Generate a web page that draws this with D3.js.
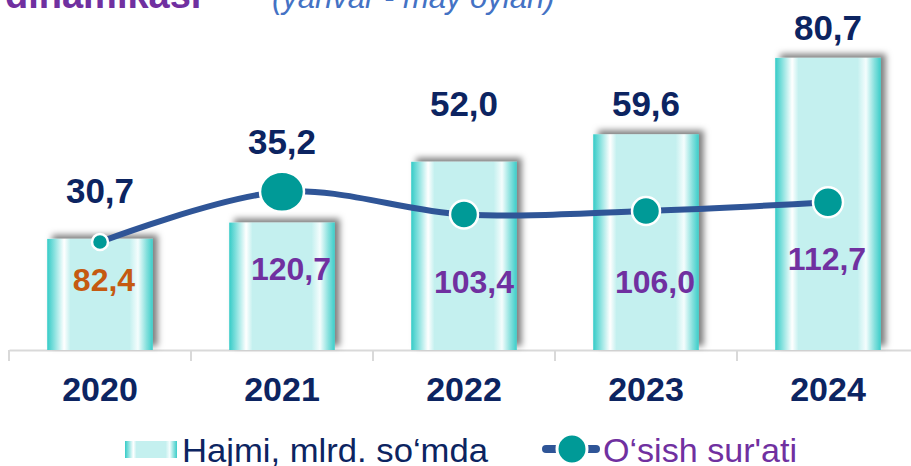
<!DOCTYPE html>
<html>
<head>
<meta charset="utf-8">
<script src="https://cdn.jsdelivr.net/npm/d3@7"></script>
<style>
  body { margin: 0; background: #fff; }
  svg { display: block; font-family: "Liberation Sans", Arial, sans-serif; }
</style>
</head>
<body>
<div id="chart"></div>
<script>
// data
var years = ["2020", "2021", "2022", "2023", "2024"];
var volume = [30.7, 35.2, 52.0, 59.6, 80.7];        // Hajmi, mlrd. so'mda (bars)
var growth = [82.4, 120.7, 103.4, 106.0, 112.7];    // O'sish sur'ati (line)
var volumeLabels = ["30,7", "35,2", "52,0", "59,6", "80,7"];
var growthLabels = ["82,4", "120,7", "103,4", "106,0", "112,7"];

// layout tweaks for labels and markers (hand placed in the original)
var volLabelY = [203, 154, 116, 116, 40];
var growLabelY = [291, 280, 293, 293, 270];
var growLabelDx = [4, 9, 10, 9, -1];
var dotR = [8, 20, 14, 14, 15];

var width = 911, height = 466;
var baseY = 350;

var svg = d3.select("#chart")
  .append("svg")
    .attr("width", width)
    .attr("height", height);

var defs = svg.append("defs");

// cylinder-like horizontal gradient of the bars
var grad = defs.append("linearGradient")
    .attr("id", "barGrad")
    .attr("x1", 0).attr("x2", 1).attr("y1", 0).attr("y2", 0);
[[0, "#35CBC7"], [0.06, "#7EDFDC"], [0.16, "#FFFFFF"], [0.22, "#C4F0EF"],
 [0.78, "#C4F0EF"], [0.86, "#F4FDFD"], [0.94, "#86E0DD"], [1, "#3CCDC9"]]
  .forEach(function(s) {
    grad.append("stop").attr("offset", s[0]).attr("stop-color", s[1]);
  });

var shadow = defs.append("filter")
    .attr("id", "shadow")
    .attr("x", "-20%").attr("y", "-20%")
    .attr("width", "150%").attr("height", "140%");
shadow.append("feDropShadow")
    .attr("dx", 5).attr("dy", -4)
    .attr("stdDeviation", 3)
    .attr("flood-color", "#000")
    .attr("flood-opacity", 0.5);

// title (mostly cut off at the top)
var title = svg.append("text")
    .attr("x", 5)
    .attr("y", 8)
    .style("font-size", "38px");
title.append("tspan")
    .style("font-weight", "bold")
    .style("fill", "#7030A0")
    .text("dinamikasi");
title.append("tspan")
    .attr("x", 272)
    .attr("y", 8)
    .style("font-style", "italic")
    .style("font-size", "31px")
    .style("fill", "#4472C4")
    .text("(yanvar - may oylari)");

// scales
var x = d3.scaleBand()
    .domain(years)
    .range([9, 919])
    .paddingInner(0.42)
    .paddingOuter(0.21);

var y = d3.scaleLinear()
    .domain([0, 96.7])
    .range([baseY, 0]);

var y2 = d3.scaleLinear()
    .domain([0, 267])
    .range([baseY, 0]);

// x axis: gray baseline, ticks at band edges, year labels
var xAxis = svg.append("g")
    .attr("transform", "translate(0," + baseY + ")")
    .call(d3.axisBottom(x).tickSize(0).tickPadding(27));
xAxis.select(".domain")
    .attr("stroke", "#D9D9D9")
    .attr("stroke-width", 2);
xAxis.selectAll("text")
    .style("font-size", "34px")
    .style("font-weight", "bold")
    .style("fill", "#0C2461")
    .style("font-family", "\"Liberation Sans\", Arial, sans-serif");

var edges = years.map(function(d) { return x(d) - x.step() * x.paddingInner() / 2; });
svg.append("g")
  .selectAll("line")
  .data(edges)
  .enter()
  .append("line")
    .attr("x1", function(d) { return d; })
    .attr("x2", function(d) { return d; })
    .attr("y1", baseY)
    .attr("y2", baseY + 11)
    .attr("stroke", "#D9D9D9")
    .attr("stroke-width", 2);

// bars
svg.append("g")
  .selectAll("rect")
  .data(volume)
  .enter()
  .append("rect")
    .attr("x", function(d, i) { return x(years[i]); })
    .attr("y", function(d) { return y(d); })
    .attr("width", x.bandwidth())
    .attr("height", function(d) { return baseY - y(d); })
    .attr("fill", "url(#barGrad)")
    .attr("filter", "url(#shadow)");

// growth line
var pts = growth.map(function(d, i) {
  return [x(years[i]) + x.bandwidth() / 2, y2(d)];
});

svg.append("path")
    .datum(pts)
    .attr("fill", "none")
    .attr("stroke", "#2F5597")
    .attr("stroke-width", 6)
    .attr("d", d3.line().curve(d3.curveCatmullRom.alpha(0.5)));

svg.append("g")
  .selectAll("ellipse")
  .data(pts)
  .enter()
  .append("ellipse")
    .attr("cx", function(d) { return d[0]; })
    .attr("cy", function(d) { return d[1]; })
    .attr("rx", function(d, i) { return dotR[i] + (i == 1 ? 2 : 0); })
    .attr("ry", function(d, i) { return dotR[i]; })
    .attr("fill", "#009A97")
    .attr("stroke", "#fff")
    .attr("stroke-width", 2.5);

// value labels above bars
svg.append("g")
  .selectAll("text")
  .data(volumeLabels)
  .enter()
  .append("text")
    .attr("x", function(d, i) { return x(years[i]) + x.bandwidth() / 2; })
    .attr("y", function(d, i) { return volLabelY[i]; })
    .attr("text-anchor", "middle")
    .style("font-size", "35px")
    .style("font-weight", "bold")
    .style("fill", "#0C2461")
    .text(function(d) { return d; });

// growth labels inside bars
svg.append("g")
  .selectAll("text")
  .data(growthLabels)
  .enter()
  .append("text")
    .attr("x", function(d, i) { return x(years[i]) + x.bandwidth() / 2 + growLabelDx[i]; })
    .attr("y", function(d, i) { return growLabelY[i]; })
    .attr("text-anchor", "middle")
    .style("font-size", "32px")
    .style("font-weight", "bold")
    .style("fill", function(d, i) { return i == 0 ? "#C55A11" : "#7030A0"; })
    .text(function(d) { return d; });

// legend
var legend = svg.append("g");
legend.append("rect")
    .attr("x", 125).attr("y", 441)
    .attr("width", 52).attr("height", 17)
    .attr("fill", "url(#barGrad)");
legend.append("text")
    .attr("x", 182).attr("y", 462)
    .attr("textLength", 306)
    .attr("lengthAdjust", "spacingAndGlyphs")
    .style("font-size", "33px")
    .style("fill", "#0C2461")
    .text("Hajmi, mlrd. so‘mda");

legend.append("line")
    .attr("x1", 546).attr("x2", 596)
    .attr("y1", 449).attr("y2", 449)
    .attr("stroke", "#2F5597")
    .attr("stroke-width", 8)
    .attr("stroke-linecap", "round");
legend.append("ellipse")
    .attr("cx", 572).attr("cy", 449)
    .attr("rx", 15).attr("ry", 15)
    .attr("fill", "#009A97")
    .attr("stroke", "#fff")
    .attr("stroke-width", 3);
legend.append("text")
    .attr("x", 603).attr("y", 462)
    .attr("textLength", 194)
    .attr("lengthAdjust", "spacingAndGlyphs")
    .style("font-size", "33px")
    .style("fill", "#7030A0")
    .text("O‘sish sur'ati");
</script>
</body>
</html>
